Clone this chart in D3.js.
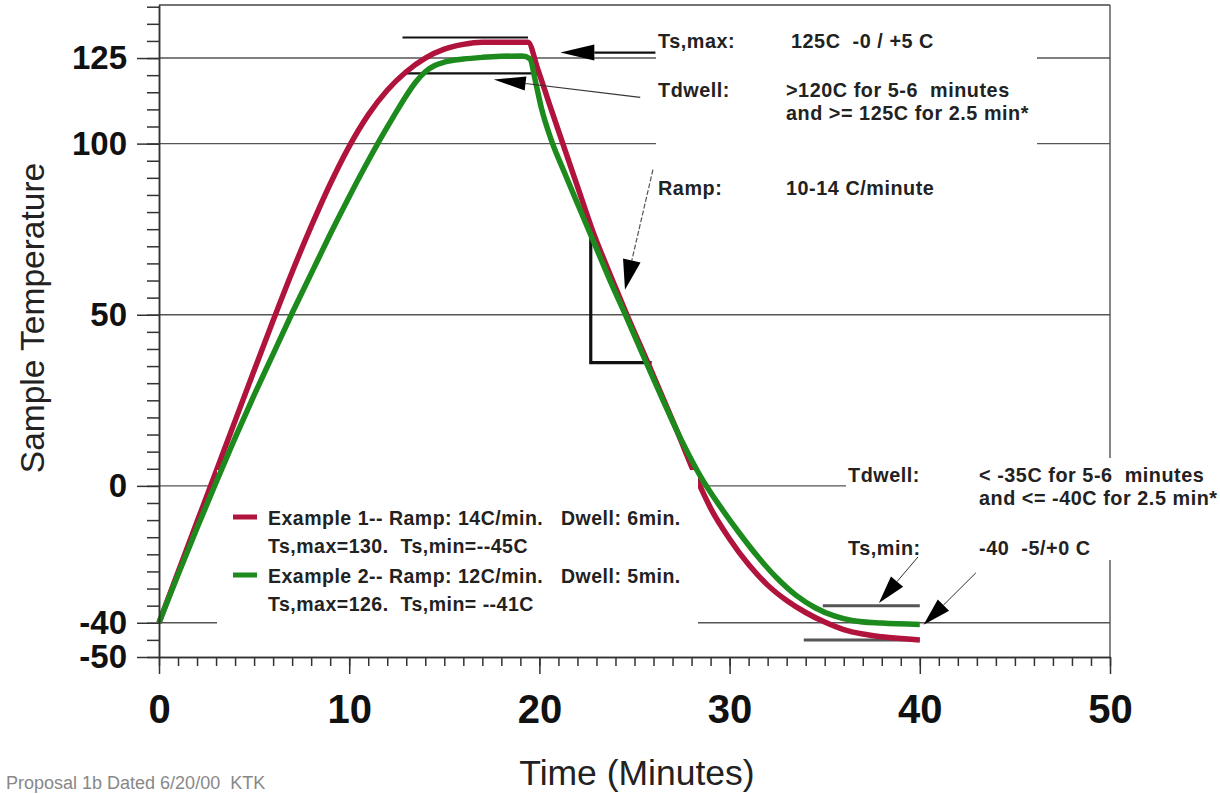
<!DOCTYPE html>
<html><head><meta charset="utf-8">
<script src="https://cdn.jsdelivr.net/npm/d3@7"></script>
<style>
html,body{margin:0;padding:0;background:#fff;}
svg{display:block;}
text{font-family:"Liberation Sans",Arial,Helvetica,sans-serif;}
</style></head><body>
<svg id="c" width="1220" height="794"></svg>
<script>
// ---------- data ----------
const redTime  = [0, 1, 2, 3, 4, 5, 6, 7, 8, 9, 10, 11, 12, 13, 14, 15, 16, 17, 19.4, 19.9, 20.5, 21.2, 22, 22.8, 23.7, 24.6, 25.7, 27.2, 28.4, 29, 30, 31, 32, 33, 34, 35, 36, 37, 38, 40];
const redTemp  = [-40, -25.2, -10.5, 4.2, 19, 33.7, 48.3, 62.5, 75.8, 88.2, 99.2, 108.4, 115.6, 121, 125, 127.6, 129, 129.6, 129.6, 122, 112, 100.5, 87.5, 74.5, 62, 50, 36, 16.5, 0.5, -6.5, -15.5, -23, -29, -33.5, -37, -39.8, -42, -43.3, -44.1, -45];
const greenTime = [0, 1, 2, 3, 4, 5, 6, 7, 8, 9, 10, 11, 11.5, 12, 12.5, 13, 13.5, 14, 14.5, 15, 16, 17, 18, 19.1, 19.5, 19.8, 20.1, 20.66, 21.3, 22, 22.8, 23.7, 24.6, 25.5, 26.5, 27.5, 28.5, 29.5, 30.5, 31.5, 32.5, 33.5, 34.5, 35.5, 36.5, 38, 40];
const greenTemp = [-40, -26, -12.3, 1, 14, 26.5, 38.5, 50.5, 62, 73.5, 84.5, 95, 100, 104.8, 109.5, 114, 118, 121, 122.8, 123.8, 124.7, 125.2, 125.5, 125.6, 124.8, 118, 110.5, 100.5, 91.8, 82.5, 72, 60.2, 49, 37.5, 25, 13, 2.5, -6, -13.7, -20.8, -27, -32, -35.6, -38, -39.4, -40.1, -40.5];

const yTickLabels = [-50, -40, 0, 50, 100, 125];
const xTickLabels = [0, 10, 20, 30, 40, 50];
const gridValues = [125, 100, 50, 0, -40];

// annotation geometry in data units (time, temperature)
const dwellHighLines = [[12.8, 19.4, 131], [12.8, 20.0, 120.5]];
const dwellLowLines  = [[34.9, 40, -35], [33.9, 40, -45]];
const rampTriangle = [[22.7, 74], [22.7, 36], [25.9, 36]];
const arrowTsMax   = [[26.1, 126.6], [21.1, 126.6]];
const arrowDwellHi = [[25.3, 113.5], [17.6, 118.7]];
const arrowRamp    = [[25.97, 92.4], [24.5, 57.3]];
const arrowTsMin1  = [[39.9, -20.8], [37.85, -34.2]];
const arrowTsMin2  = [[42.95, -25.4], [40.2, -40.6]];

const legendLabels = [
  "Example 1-- Ramp: 14C/min.   Dwell: 6min.",
  "Ts,max=130.  Ts,min=--45C",
  "Example 2-- Ramp: 12C/min.   Dwell: 5min.",
  "Ts,max=126.  Ts,min= --41C"
];

// ---------- drawing ----------
const RED = "#b0143c", GREEN = "#1c8a1c";
const svg = d3.select("#c");
const x = d3.scaleLinear().domain([0, 50]).range([159, 1110]);
const y = d3.scaleLinear().domain([-50, 140.5]).range([657, 5]);

svg.append("rect").attr("width", 1220).attr("height", 794).attr("fill", "#fff");

// frame
svg.append("line").attr("x1", x(0)).attr("x2", x(50)).attr("y1", y(140.5)).attr("y2", y(140.5)).attr("stroke", "#444").attr("stroke-width", 1.3);
svg.append("line").attr("x1", x(50)).attr("x2", x(50)).attr("y1", y(140.5)).attr("y2", y(-50)).attr("stroke", "#444").attr("stroke-width", 1.3);

// gridlines
svg.append("g").selectAll("line").data(gridValues).join("line")
  .attr("x1", x(0)).attr("x2", x(50))
  .attr("y1", d => y(d)).attr("y2", d => y(d))
  .attr("stroke", "#555").attr("stroke-width", 1.4);

// white text boxes (hide the gridlines beneath annotation text)
svg.append("rect").attr("x", 656).attr("y", 22).attr("width", 381).attr("height", 182).attr("fill", "#fff");
svg.append("rect").attr("x", 846).attr("y", 458).attr("width", 374).attr("height", 102).attr("fill", "#fff");

// annotation reference lines
svg.append("g").selectAll("line").data(dwellHighLines).join("line")
  .attr("x1", d => x(d[0])).attr("x2", d => x(d[1]))
  .attr("y1", d => y(d[2])).attr("y2", d => y(d[2]))
  .attr("stroke", "#111").attr("stroke-width", 2.2);
svg.append("g").selectAll("line").data(dwellLowLines).join("line")
  .attr("x1", d => x(d[0])).attr("x2", d => x(d[1]))
  .attr("y1", d => y(d[2])).attr("y2", d => y(d[2]))
  .attr("stroke", "#555").attr("stroke-width", 3);

// ramp triangle
svg.append("path")
  .attr("d", d3.line().x(d => x(d[0])).y(d => y(d[1]))(rampTriangle))
  .attr("fill", "none").attr("stroke", "#111").attr("stroke-width", 3.2);

const line = d3.line().curve(d3.curveMonotoneX);
const redPts = redTime.map((t, i) => [x(t), y(redTemp[i])]);
const greenPts = greenTime.map((t, i) => [x(t), y(greenTemp[i])]);

// red series
svg.append("path").attr("d", line(redPts)).attr("fill", "none")
  .attr("stroke", RED).attr("stroke-width", 5.5).attr("stroke-linejoin", "round");

// legend box
svg.append("rect").attr("x", 217).attr("y", 470).attr("width", 481).attr("height", 162).attr("fill", "#fff");
const lg = svg.append("g");
const legendBaselines = [525, 553, 583, 611];
lg.selectAll("text").data(legendLabels).join("text")
  .attr("x", 268).attr("y", (d, i) => legendBaselines[i])
  .attr("xml:space", "preserve").style("white-space", "pre")
  .attr("font-size", 19.5).attr("font-weight", "bold").attr("letter-spacing", 0.5)
  .attr("fill", "#222").text(d => d);
lg.selectAll("line").data([RED, GREEN]).join("line")
  .attr("x1", 233).attr("x2", 257)
  .attr("y1", (d, i) => legendBaselines[i * 2] - 8).attr("y2", (d, i) => legendBaselines[i * 2] - 8)
  .attr("stroke", d => d).attr("stroke-width", 5);

// green series
svg.append("path").attr("d", line(greenPts)).attr("fill", "none")
  .attr("stroke", GREEN).attr("stroke-width", 5.5).attr("stroke-linejoin", "round");

// arrows
function arrow(a, opts) {
  const x0 = x(a[0][0]), y0 = y(a[0][1]), x1 = x(a[1][0]), y1 = y(a[1][1]);
  const dx = x1 - x0, dy = y1 - y0, len = Math.hypot(dx, dy);
  const ux = dx / len, uy = dy / len, px = -uy, py = ux;
  const L = opts.head || 32, W = opts.half || 8;
  const bx = x1 - ux * L, by = y1 - uy * L;
  svg.append("line").attr("x1", x0).attr("y1", y0).attr("x2", bx).attr("y2", by)
    .attr("stroke", opts.color || "#222").attr("stroke-width", opts.w || 1)
    .attr("stroke-dasharray", opts.dash || null);
  svg.append("path")
    .attr("d", `M${x1},${y1}L${bx + px * W},${by + py * W}L${bx - px * W},${by - py * W}Z`)
    .attr("fill", "#000");
}
arrow(arrowTsMax, {w: 2.2, head: 34, half: 8, color: "#111"});
arrow(arrowDwellHi, {w: 1.1, head: 32, half: 7, color: "#333"});
arrow(arrowRamp, {w: 1.2, head: 30, half: 9, color: "#555", dash: "5,2"});
arrow(arrowTsMin1, {w: 1, head: 28, half: 8, color: "#333"});
arrow(arrowTsMin2, {w: 1, head: 28, half: 8, color: "#333"});

// axes
const yMinor = d3.axisLeft(y).tickValues(d3.range(-50, 141, 5)).tickSize(12).tickSizeOuter(0).tickFormat("");
const yMajor = d3.axisLeft(y).tickValues(yTickLabels).tickSize(22).tickSizeOuter(0).tickPadding(10).tickFormat(d => String(d));
const xMinor = d3.axisBottom(x).tickValues(d3.range(0, 51, 1)).tickSize(9).tickSizeOuter(0).tickFormat("");
const xMajor = d3.axisBottom(x).tickValues(xTickLabels).tickSize(17).tickSizeOuter(0).tickPadding(21).tickFormat(d => String(d));

function styleAxis(g) {
  g.selectAll("path,line").attr("stroke", "#333").attr("stroke-width", 1.5);
}
svg.append("g").attr("transform", `translate(${x(0)},0)`).call(yMinor).call(styleAxis);
const gy = svg.append("g").attr("transform", `translate(${x(0)},0)`).call(yMajor).call(styleAxis);
gy.selectAll("text").attr("font-size", 33).attr("font-weight", "bold").attr("fill", "#111")
  .attr("font-family", '"Liberation Sans",Arial,sans-serif');
svg.append("g").attr("transform", `translate(0,${y(-50)})`).call(xMinor).call(styleAxis);
const gx = svg.append("g").attr("transform", `translate(0,${y(-50)})`).call(xMajor).call(styleAxis);
gx.selectAll("text").attr("font-size", 40).attr("font-weight", "bold").attr("fill", "#111")
  .attr("font-family", '"Liberation Sans",Arial,sans-serif');

// axis titles
svg.append("text").attr("x", 637).attr("y", 785).attr("text-anchor", "middle")
  .attr("font-size", 35.5).attr("fill", "#222").text("Time (Minutes)");
svg.append("text").attr("transform", "translate(44,318) rotate(-90)").attr("text-anchor", "middle")
  .attr("font-size", 33.5).attr("fill", "#222").text("Sample Temperature");

// annotation texts
const notes = [
  [658, 48, "Ts,max:"], [791, 48, "125C  -0 / +5 C"],
  [658, 97, "Tdwell:"], [786, 97, ">120C for 5-6  minutes"], [786, 120, "and >= 125C for 2.5 min*"],
  [658, 195, "Ramp:"], [786, 195, "10-14 C/minute"],
  [848, 482, "Tdwell:"], [979, 482, "< -35C for 5-6  minutes"], [979, 505, "and <= -40C for 2.5 min*"],
  [848, 555, "Ts,min:"], [979, 555, "-40  -5/+0 C"]
];
svg.append("g").selectAll("text").data(notes).join("text")
  .attr("x", d => d[0]).attr("y", d => d[1])
  .attr("xml:space", "preserve").style("white-space", "pre")
  .attr("font-size", 19.8).attr("font-weight", "bold").attr("letter-spacing", 0.55)
  .attr("fill", "#222").text(d => d[2]);

// footnote
svg.append("text").attr("x", 6).attr("y", 789).attr("font-size", 18).attr("fill", "#888")
  .attr("xml:space", "preserve").style("white-space", "pre")
  .text("Proposal 1b Dated 6/20/00  KTK");
</script>
</body></html>
